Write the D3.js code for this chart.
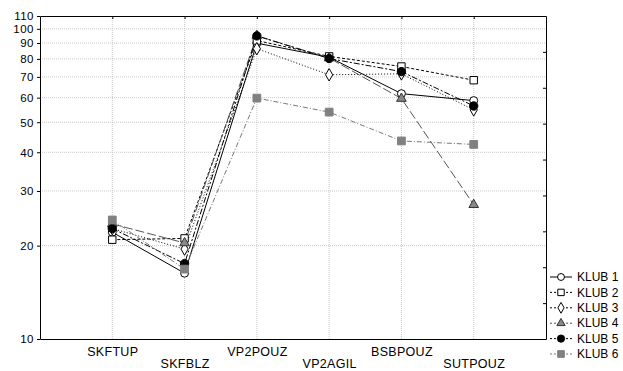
<!DOCTYPE html>
<html>
<head>
<meta charset="utf-8">
<script src="https://cdn.jsdelivr.net/npm/d3@7"></script>
<style>
  body { margin: 0; background: #fff; }
  svg text { font-family: "Liberation Sans", Arial, sans-serif; fill: #000; }
</style>
</head>
<body>
<svg id="chart" width="623" height="371"></svg>
<script>
// categories on the x axis
const categories = ["SKFTUP", "SKFBLZ", "VP2POUZ", "VP2AGIL", "BSBPOUZ", "SUTPOUZ"];
const yTicks = [10, 20, 30, 40, 50, 60, 70, 80, 90, 100, 110];

// values per club
const klub1 = [22.1, 16.3, 89.9, 81.0, 61.8, 58.7];
const klub2 = [20.9, 21.1, 91.7, 81.5, 75.6, 68.3];
const klub3 = [22.7, 19.5, 86.3, 71.1, 71.6, 54.8];
const klub4 = [23.5, 20.4, 95.0, 80.5, 59.6, 27.1];
const klub5 = [22.7, 17.5, 94.9, 80.2, 72.8, 56.4];
const klub6 = [24.2, 16.8, 59.8, 53.9, 43.5, 42.4];

const series = [
  { name: "KLUB 1", values: klub1, stroke: "#000", dash: null, symbol: d3.symbolCircle, size: 50, fill: "#fff", mstroke: "#000" },
  { name: "KLUB 2", values: klub2, stroke: "#000", dash: "3,2", symbol: d3.symbolSquare, size: 55, fill: "#fff", mstroke: "#000" },
  { name: "KLUB 3", values: klub3, stroke: "#000", dash: "1,2", symbol: d3.symbolDiamond, size: 45, fill: "#fff", mstroke: "#000" },
  { name: "KLUB 4", values: klub4, stroke: "#555", dash: "9,3", symbol: d3.symbolTriangle, size: 40, fill: "#888", mstroke: "#333" },
  { name: "KLUB 5", values: klub5, stroke: "#000", dash: "6,2,2,2", symbol: d3.symbolCircle, size: 55, fill: "#000", mstroke: "#000" },
  { name: "KLUB 6", values: klub6, stroke: "#777", dash: "5,2,1,2", symbol: d3.symbolSquare, size: 60, fill: "#808080", mstroke: "#808080" }
];

const plotLeft = 40, plotRight = 546, plotTop = 16, plotBottom = 339;
const svg = d3.select("#chart");

const x = d3.scalePoint().domain(categories).range([plotLeft, plotRight]).padding(1);
const y = d3.scaleLog().domain([10, 110]).range([plotBottom, plotTop]);
const yRight = d3.scaleLinear().domain([0, 9]).range([plotBottom, plotTop]);

// grid
svg.append("g").selectAll("line")
  .data(yTicks.filter(d => d > 10 && d < 110))
  .enter().append("line")
  .attr("x1", plotLeft).attr("x2", plotRight)
  .attr("y1", d => y(d)).attr("y2", d => y(d))
  .attr("stroke", "#c8c8c8").attr("stroke-dasharray", "1,1");

svg.append("g").selectAll("line")
  .data(categories)
  .enter().append("line")
  .attr("x1", d => x(d)).attr("x2", d => x(d))
  .attr("y1", plotTop).attr("y2", plotBottom)
  .attr("stroke", "#c8c8c8").attr("stroke-dasharray", "1,1");

// left axis
const yAxis = svg.append("g")
  .attr("transform", `translate(${plotLeft},0)`)
  .call(d3.axisLeft(y).tickValues(yTicks).tickFormat(d3.format("d")).tickSize(3).tickSizeOuter(0).tickPadding(3));
yAxis.selectAll("text")
  .style("font-size", "11.5px")
  .style("letter-spacing", "0.5px")
  .attr("dy", "0.34em");

// right axis, plain ticks
svg.append("g")
  .attr("transform", `translate(${plotRight},0)`)
  .call(d3.axisRight(yRight).ticks(9).tickSize(-3).tickSizeOuter(0).tickFormat(""));

// top axis
svg.append("g")
  .attr("transform", `translate(0,${plotTop})`)
  .call(d3.axisBottom(x).tickSize(3).tickSizeOuter(0).tickFormat(""));

// bottom axis, staggered labels
const xAxis = svg.append("g")
  .attr("transform", `translate(0,${plotBottom})`)
  .call(d3.axisBottom(x).tickSize(0).tickSizeOuter(0).tickPadding(8));
xAxis.selectAll("text")
  .style("font-size", "12.5px")
  .style("letter-spacing", "0.3px")
  .attr("dy", (d, i) => i % 2 === 0 ? "0.71em" : "1.7em");

svg.selectAll(".domain").attr("stroke", "#000");
svg.selectAll(".tick line").attr("stroke", "#000");

// lines
const line = d3.line()
  .x((d, i) => x(categories[i]))
  .y(d => y(d));

series.forEach(s => {
  svg.append("path")
    .datum(s.values)
    .attr("fill", "none")
    .attr("stroke", s.stroke)
    .attr("stroke-width", 1)
    .attr("stroke-dasharray", s.dash)
    .attr("d", line);
});

series.forEach(s => {
  svg.append("g").selectAll("path")
    .data(s.values)
    .enter().append("path")
    .attr("d", d3.symbol().type(s.symbol).size(s.size))
    .attr("transform", (d, i) => `translate(${x(categories[i])},${y(d)})`)
    .attr("fill", s.fill)
    .attr("stroke", s.mstroke)
    .attr("stroke-width", 1);
});

// legend
const legend = svg.append("g").attr("transform", "translate(550,277)");
series.forEach((s, i) => {
  const g = legend.append("g").attr("transform", `translate(0,${i * 15.4})`);
  g.append("line")
    .attr("x1", 0).attr("x2", 22)
    .attr("stroke", s.stroke)
    .attr("stroke-dasharray", s.dash ? "2,2" : null);
  g.append("path")
    .attr("d", d3.symbol().type(s.symbol).size(s.size * 0.75))
    .attr("transform", "translate(11,0)")
    .attr("fill", s.fill)
    .attr("stroke", s.mstroke);
  g.append("text")
    .attr("x", 27)
    .attr("dy", "0.35em")
    .style("font-size", "12px")
    .text(s.name);
});
</script>
</body>
</html>
